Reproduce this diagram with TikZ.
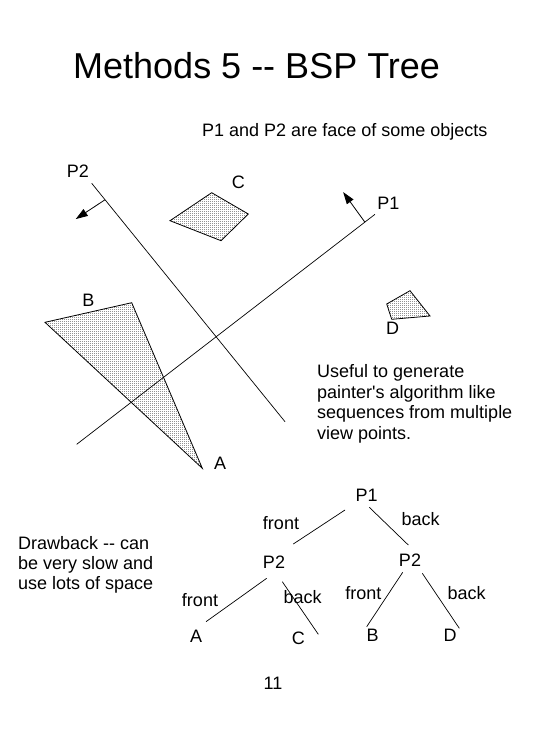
\documentclass[tikz,border=0pt]{standalone}
\usepackage{fontspec}
\setmainfont{Liberation Sans}
\usepackage{tikz}
\usetikzlibrary{arrows.meta,patterns,calc}
\pgfdeclarepatternformonly{dotfill}{\pgfqpoint{0pt}{0pt}}{\pgfqpoint{2pt}{2pt}}{\pgfqpoint{2pt}{2pt}}%
  {\pgfpathrectangle{\pgfqpoint{0pt}{0pt}}{\pgfqpoint{1pt}{1pt}}\pgfusepath{fill}}
\tikzset{
  plane/.style={line width=0.7pt},
  face/.style={draw,line width=0.8pt,pattern=dotfill},
  normal/.style={-{Triangle[length=12pt,width=8pt]},line width=0.8pt},
  lbl/.style={font=\fontsize{18}{20.5}\selectfont,inner sep=0pt},
  branch/.style={line width=0.7pt},
}

\begin{document}
\begin{tikzpicture}[x=1pt,y=-1pt]
  \useasboundingbox (0,0) rectangle (547,730);
  % Title
  \node[anchor=base west,inner sep=0pt,font=\fontsize{36}{40}\selectfont]
    (title) at (73,79) {Methods 5 -\kern0pt- BSP Tree};
  \node[lbl,anchor=base west] (note) at (202,136.5) {P1 and P2 are face of some objects};
  % Planes
  \coordinate (p2a) at (91.7,183.3);
  \coordinate (p2b) at (285,421.7);
  \coordinate (p1a) at (76.7,444.3);
  \coordinate (p1b) at (375,214.3);
  \draw[plane] (p2a) -- (p2b);
  \draw[plane] (p1a) -- (p1b);
  \draw[normal] ($(p2a)!0.069!(p2b)$) -- ++(-29.3,19.3);
  \draw[normal] ($(p1a)!0.966!(p1b)$) -- ++(-21.7,-30);
  % Faces
  \draw[face] (170,220.7) -- (211.7,192.7) -- (248.3,214) -- (221,240.7) -- cycle;
  \draw[face] (45,322.3) -- (131.7,302.7) -- (202.3,468.3) -- cycle;
  \draw[face] (386.7,304) -- (410,290.7) -- (430,316) -- (391.7,319.3) -- cycle;
  % Labels
  \node[lbl] (labP2) at (78,171.7) {P2};
  \node[lbl] (labP1) at (388.3,203.3) {P1};
  \node[lbl] (labC) at (238.3,182.3) {C};
  \node[lbl] (labB) at (88.3,300.7) {B};
  \node[lbl] (labA) at (220,463.3) {A};
  \node[lbl] (labD) at (392.7,328.3) {D};
  \node[lbl,anchor=base west,align=left] (useful) at (317,439)
    {Useful to generate\\painter\textquotesingle s algorithm like\\sequences from multiple\\view points.};
  \node[lbl,anchor=base west,align=left,font=\fontsize{18}{20}\selectfont] (drawback) at (18,589.5)
    {Drawback -\kern0pt- can\\be very slow and\\use lots of space};
  % Tree
  \node[lbl] (t1) at (366.7,495) {P1};
  \node[lbl] (t2l) at (274,562) {P2};
  \node[lbl] (t2r) at (410,560) {P2};
  \node[lbl] (tA) at (196,636.7) {A};
  \node[lbl] (tC) at (298.3,638.3) {C};
  \node[lbl] (tB) at (372.7,635.7) {B};
  \node[lbl] (tD) at (450,635.7) {D};
  \foreach \a/\ax/\ay/\b/\bx/\by in {t1/-21.7/15/t2l/19.3/-18, t1/2.6/12.3/t2r/-1.7/-15,
      t2l/-7.3/16.3/tA/10/-15, t2l/8.3/19.7/tC/20/-4,
      t2r/-7.3/12.3/tB/-6/-9, t2r/12.3/13.3/tD/9.3/-7.4}
    \draw[branch] ([shift={(\ax,\ay)}]\a.center) -- ([shift={(\bx,\by)}]\b.center);
  \node[lbl] (f1) at (281,522.7) {front};
  \node[lbl] (b1) at (420.7,519) {back};
  \node[lbl] (f2) at (200,600) {front};
  \node[lbl] (b2) at (302.7,596.7) {back};
  \node[lbl] (f3) at (363.3,593.3) {front};
  \node[lbl] (b3) at (466.7,593.3) {back};
  \node[lbl] (page) at (273,683) {11};
\end{tikzpicture}
\end{document}
